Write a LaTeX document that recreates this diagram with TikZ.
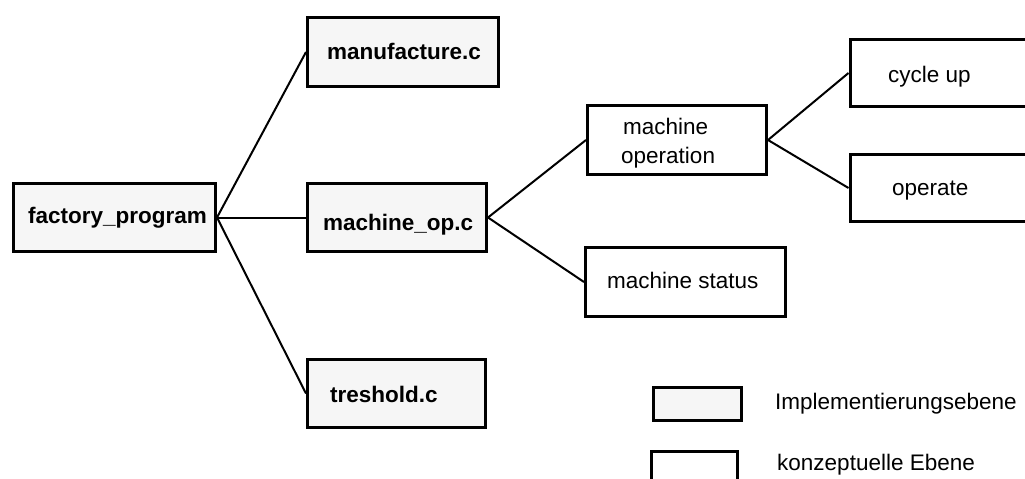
\documentclass[tikz,border=0pt]{standalone}
\usepackage{fontspec}
\setmainfont{Liberation Sans}
\definecolor{implfill}{RGB}{246,246,246}
\tikzset{
  implbox/.style={draw=black, line width=3pt, fill=implfill, rectangle, inner sep=0pt},
  conbox/.style={draw=black, line width=3pt, fill=white, rectangle, inner sep=0pt},
  lbl/.style={inner sep=0pt, anchor=base west, font=\fontsize{22.5}{27}\selectfont},
  blbl/.style={lbl, font=\fontsize{22.5}{27}\selectfont\bfseries},
  link/.style={draw=black, line width=2pt}
}
\begin{document}
\begin{tikzpicture}[x=1pt, y=-1pt]
\useasboundingbox (0,0) rectangle (1025,479);
\clip (0,0) rectangle (1025,479);

% implementation-level modules
\node[implbox, minimum width=202pt, minimum height=68pt] (fp) at (114.5,217.5) {};
\node[implbox, minimum width=191pt, minimum height=69pt] (mf) at (403,52) {};
\node[implbox, minimum width=179pt, minimum height=68pt] (mo) at (397,217.5) {};
\node[implbox, minimum width=178pt, minimum height=68pt] (tr) at (396.5,393.5) {};

% conceptual-level functions
\node[conbox, minimum width=179pt, minimum height=69pt] (mop) at (677,140) {};
\node[conbox, minimum width=200pt, minimum height=69pt] (ms) at (685.5,282) {};
\node[conbox, anchor=west, minimum width=260pt, minimum height=67pt] (cu) at (848.5,73) {};
\node[conbox, anchor=west, minimum width=260pt, minimum height=67pt] (op) at (848.5,188) {};

% legend boxes
\node[implbox, minimum width=88pt, minimum height=33pt] (limpl) at (697.5,404) {};
\node[conbox, anchor=north, minimum width=86pt, minimum height=60pt] (lcon) at (694.5,449.5) {};

% labels
\node[blbl] (fp-t) at (28,223) {factory\_program};
\node[blbl] (mf-t) at (327,59) {manufacture.c};
\node[blbl] (mo-t) at (323,230) {machine\_op.c};
\node[blbl] (tr-t) at (330,402) {treshold.c};
\node[lbl] (mop-t1) at (623,134) {machine};
\node[lbl] (mop-t2) at (621,163) {operation};
\node[lbl] (ms-t) at (607,288) {machine status};
\node[lbl] (cu-t) at (888,82) {cycle up};
\node[lbl] (op-t) at (892,195) {operate};
\node[lbl] (limpl-t) at (775,409) {Implementierungsebene};
\node[lbl] (lcon-t) at (777,470) {konzeptuelle Ebene};

% call structure
\draw[link] (fp.east) -- (mf.west);
\draw[link] (fp.east) -- (mo.west);
\draw[link] (fp.east) -- (tr.west);
\draw[link] (mo.east) -- (mop.west);
\draw[link] (mo.east) -- (ms.west);
\draw[link] (mop.east) -- (cu.west);
\draw[link] (mop.east) -- (op.west);
\end{tikzpicture}
\end{document}
